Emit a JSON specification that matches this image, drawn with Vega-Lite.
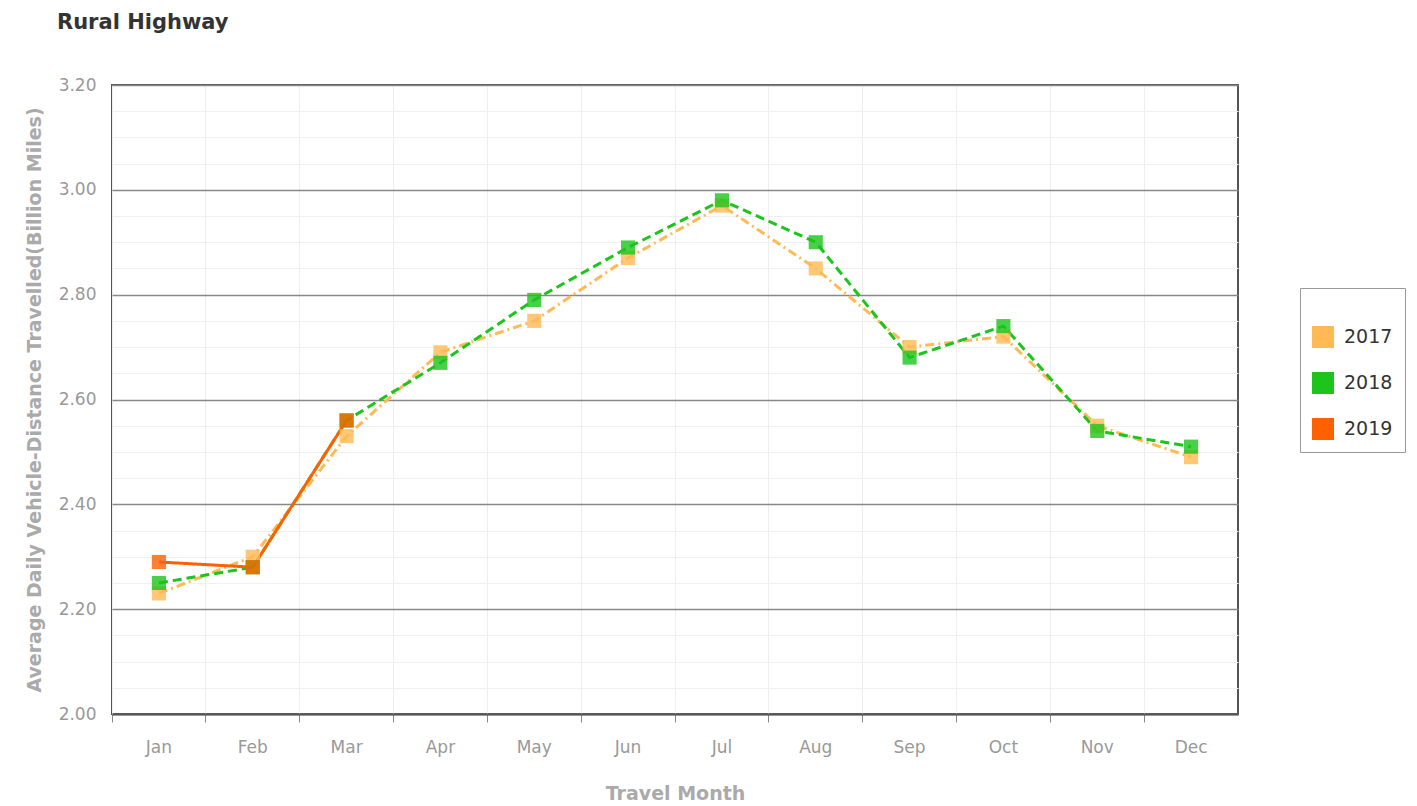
{
  "$schema": "https://vega.github.io/schema/vega-lite/v6.json",
  "width": 1126,
  "height": 629,
  "autosize": {"type": "none"},
  "padding": {"left": 112, "top": 85, "right": 179, "bottom": 92},
  "background": "white",
  "title": {
    "text": "Rural Highway",
    "anchor": "start",
    "frame": "group",
    "dx": -55,
    "offset": 43,
    "font": "DejaVu Sans",
    "fontSize": 21,
    "fontWeight": "bold",
    "color": "#333333"
  },
  "config": {
    "view": {"stroke": "#555555", "strokeWidth": 2},
    "font": "DejaVu Sans"
  },
  "data": {
    "values": [
      {"year": "2017", "month": "Jan", "value": 2.23},
      {"year": "2017", "month": "Feb", "value": 2.30},
      {"year": "2017", "month": "Mar", "value": 2.53},
      {"year": "2017", "month": "Apr", "value": 2.69},
      {"year": "2017", "month": "May", "value": 2.75},
      {"year": "2017", "month": "Jun", "value": 2.87},
      {"year": "2017", "month": "Jul", "value": 2.97},
      {"year": "2017", "month": "Aug", "value": 2.85},
      {"year": "2017", "month": "Sep", "value": 2.70},
      {"year": "2017", "month": "Oct", "value": 2.72},
      {"year": "2017", "month": "Nov", "value": 2.55},
      {"year": "2017", "month": "Dec", "value": 2.49},
      {"year": "2018", "month": "Jan", "value": 2.25},
      {"year": "2018", "month": "Feb", "value": 2.28},
      {"year": "2018", "month": "Mar", "value": 2.56},
      {"year": "2018", "month": "Apr", "value": 2.67},
      {"year": "2018", "month": "May", "value": 2.79},
      {"year": "2018", "month": "Jun", "value": 2.89},
      {"year": "2018", "month": "Jul", "value": 2.98},
      {"year": "2018", "month": "Aug", "value": 2.90},
      {"year": "2018", "month": "Sep", "value": 2.68},
      {"year": "2018", "month": "Oct", "value": 2.74},
      {"year": "2018", "month": "Nov", "value": 2.54},
      {"year": "2018", "month": "Dec", "value": 2.51},
      {"year": "2019", "month": "Jan", "value": 2.29},
      {"year": "2019", "month": "Feb", "value": 2.28},
      {"year": "2019", "month": "Mar", "value": 2.56}
    ]
  },
  "encoding": {
    "x": {
      "field": "month",
      "type": "ordinal",
      "sort": ["Jan", "Feb", "Mar", "Apr", "May", "Jun", "Jul", "Aug", "Sep", "Oct", "Nov", "Dec"],
      "scale": {"type": "band", "paddingInner": 0, "paddingOuter": 0},
      "axis": {
        "title": "Travel Month",
        "titleFontSize": 19,
        "titleFontWeight": "bold",
        "titleColor": "#aaaaaa",
        "titlePadding": 29,
        "labelAngle": 0,
        "labelFontSize": 17,
        "labelColor": "#999999",
        "labelPadding": 17,
        "bandPosition": 0,
        "tickSize": 8,
        "tickColor": "#888888",
        "domainColor": "#555555",
        "domainWidth": 2,
        "grid": true,
        "gridColor": "#eeeeee",
        "gridWidth": 1
      }
    },
    "y": {
      "field": "value",
      "type": "quantitative",
      "scale": {"domain": [2.0, 3.2], "zero": false, "nice": false},
      "axis": {
        "title": "Average Daily Vehicle-Distance Travelled(Billion Miles)",
        "titleFontSize": 19,
        "titleFontWeight": "bold",
        "titleColor": "#aaaaaa",
        "titlePadding": 14,
        "values": [2.0, 2.05, 2.1, 2.15, 2.2, 2.25, 2.3, 2.35, 2.4, 2.45, 2.5, 2.55, 2.6, 2.65, 2.7, 2.75, 2.8, 2.85, 2.9, 2.95, 3.0, 3.05, 3.1, 3.15, 3.2],
        "labelExpr": "round(datum.value*100) % 20 == 0 ? format(datum.value, '.2f') : ''",
        "labelFontSize": 17,
        "labelColor": "#999999",
        "labelPadding": 16,
        "ticks": false,
        "domain": false,
        "grid": true,
        "gridColor": {"condition": {"test": "round(datum.value*100) % 20 == 0", "value": "#888888"}, "value": "#f0f0f0"},
        "gridWidth": {"condition": {"test": "round(datum.value*100) % 20 == 0", "value": 1.5}, "value": 1}
      }
    },
    "color": {
      "field": "year",
      "type": "nominal",
      "scale": {"domain": ["2017", "2018", "2019"], "range": ["#FFBA55", "#1CC41C", "#FF6000"]},
      "legend": {
        "title": " ",
        "titleFontSize": 14,
        "titlePadding": 12,
        "orient": "none",
        "legendX": 1188,
        "legendY": 203,
        "padding": 12,
        "strokeColor": "#999999",
        "fillColor": "white",
        "symbolSize": 484,
        "symbolType": "square",
        "symbolOpacity": 1,
        "symbolStrokeWidth": 0,
        "labelFontSize": 19,
        "labelColor": "#333333",
        "labelOffset": 10,
        "rowPadding": 24
      }
    }
  },
  "layer": [
    {
      "mark": {"type": "line", "strokeWidth": 3},
      "encoding": {
        "strokeDash": {
          "field": "year",
          "type": "nominal",
          "scale": {"domain": ["2017", "2018", "2019"], "range": [[9, 4, 2, 4], [9, 5], [1, 0]]},
          "legend": null
        }
      }
    },
    {
      "mark": {"type": "point", "shape": "square", "filled": true, "size": 200, "opacity": 0.8}
    }
  ]
}
